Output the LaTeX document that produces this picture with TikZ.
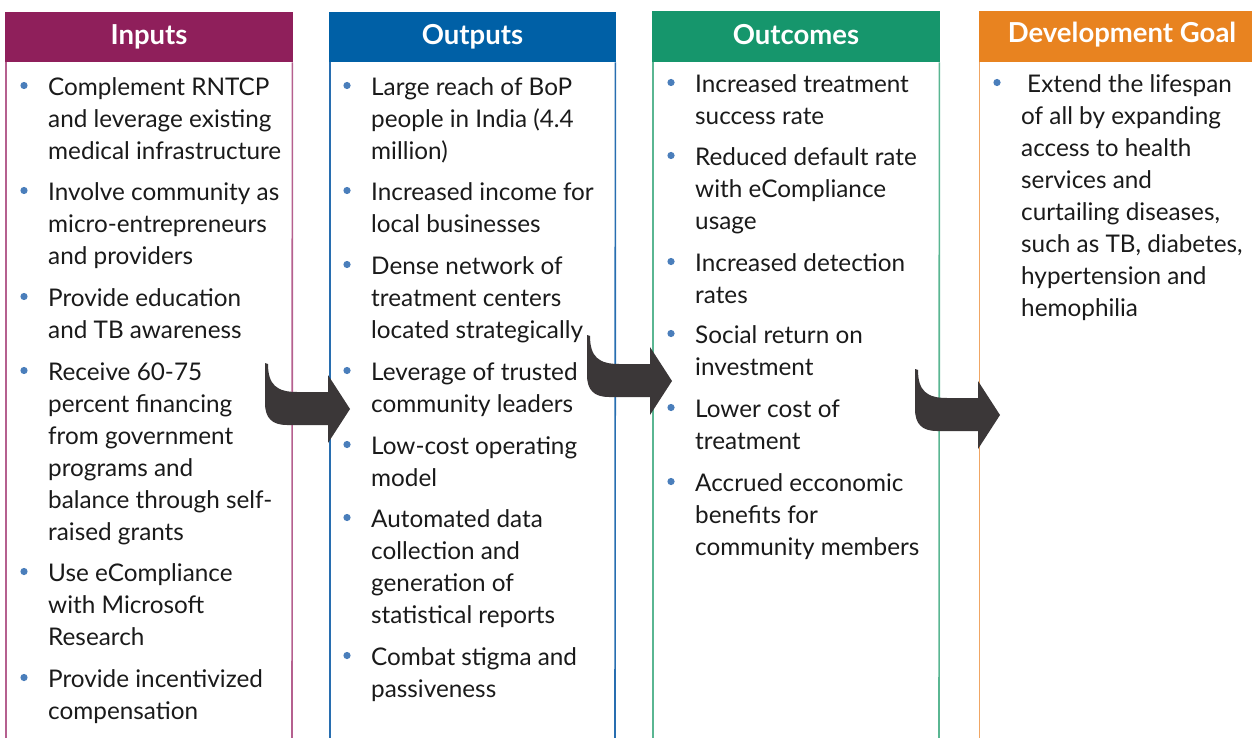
\documentclass[tikz,border=0pt]{standalone}
\usepackage{fontspec}
\setmainfont{Lato}
\usetikzlibrary{calc}
\definecolor{inpc}{RGB}{143,31,91}
\definecolor{outc}{RGB}{0,96,166}
\definecolor{ocmc}{RGB}{22,150,108}
\definecolor{devc}{RGB}{232,131,32}
\definecolor{inpl}{RGB}{181,96,143}
\definecolor{outl}{RGB}{40,110,176}
\definecolor{ocml}{RGB}{90,182,146}
\definecolor{devl}{RGB}{240,166,100}
\definecolor{bulc}{RGB}{74,126,187}
\definecolor{arrc}{RGB}{59,55,56}
\definecolor{txtc}{RGB}{26,26,26}
\tikzset{
  x=1pt, y=-1pt,
  header/.style={draw=none, inner sep=0pt, anchor=north west},
  htext/.style={text=white, inner sep=0pt, font=\fontsize{27.5}{30}\selectfont\bfseries},
  item/.style={inner sep=0pt, anchor=north west, align=left, text=txtc,
    font=\fontsize{24.3}{32}\selectfont, execute at begin node=\strut},
  colline/.style={line width=1.6pt},
  bentarrow/.pic={
    \fill[arrc] (0,0) -- (3,1) .. controls (3,22) and (12,29) .. (32,29)
      -- (63,29) -- (63,12) -- (85,46) -- (63,80) -- (63,62) -- (22,62)
      .. controls (7,62) and (0,55) .. (0,40) -- cycle;
  }
}
\begin{document}
\begin{tikzpicture}
\useasboundingbox (0,0) rectangle (1252,738);
% headers
\node[header, fill=inpc, minimum width=288pt, minimum height=50pt] (hin) at (5,12) {};
\node[htext] (thin) at (149,37) {Inputs};
\node[header, fill=outc, minimum width=287pt, minimum height=50pt] (hout) at (329,12) {};
\node[htext] (thout) at (472.5,37) {Outputs};
\node[header, fill=ocmc, minimum width=288pt, minimum height=51pt] (hocm) at (652,11) {};
\node[htext] (thocm) at (796,35) {Outcomes};
\node[header, fill=devc, minimum width=273pt, minimum height=51pt] (hdev) at (979,11) {};
\node[htext] (thdev) at (1122,35) {Development Goal};
% column lines
\coordinate (bin1) at (6,738); \coordinate (bin2) at (292,738);
\coordinate (bout1) at (330,738); \coordinate (bout2) at (615,738);
\coordinate (bocm1) at (653,738); \coordinate (bocm2) at (939,738);
\coordinate (bdev1) at (979.5,738);
\draw[colline, inpl] ($(hin.south west)+(1,0)$) -- (bin1);
\draw[colline, inpl] ($(hin.south east)+(-1,0)$) -- (bin2);
\draw[colline, outl] ($(hout.south west)+(1,0)$) -- (bout1);
\draw[colline, outl] ($(hout.south east)+(-1,0)$) -- (bout2);
\draw[colline, ocml] ($(hocm.south west)+(1,0)$) -- (bocm1);
\draw[colline, ocml] ($(hocm.south east)+(-1,0)$) -- (bocm2);
\draw[colline, devl] ($(hdev.south west)+(0.5,0)$) -- (bdev1);
% Inputs
\node[item] (i1) at (48,77.6) {Complement RNTCP\\and leverage existing\\medical infrastructure};
\node[item] (i2) at (48,182.6) {Involve community as\\micro-entrepreneurs\\and providers};
\node[item] (i3) at (48,288.6) {Provide education\\and TB awareness};
\node[item] (i4) at (48,362.6) {Receive 60-75\\percent financing\\from government\\programs and\\balance through self-\\raised grants};
\node[item] (i5) at (48,563.6) {Use eCompliance\\with Microsoft\\Research};
\node[item] (i6) at (48,669.6) {Provide incentivized\\compensation};
% Outputs
\node[item] (o1) at (371,77.6) {Large reach of BoP\\people in India (4.4\\million)};
\node[item] (o2) at (371,182.6) {Increased income for\\local businesses};
\node[item] (o3) at (371,256.6) {Dense network of\\treatment centers\\located strategically};
\node[item] (o4) at (371,362.6) {Leverage of trusted\\community leaders};
\node[item] (o5) at (371,436.6) {Low-cost operating\\model};
\node[item] (o6) at (371,509.6) {Automated data\\collection and\\generation of\\statistical reports};
\node[item] (o7) at (371,647.6) {Combat stigma and\\passiveness};
% Outcomes
\node[item] (c1) at (695,74.6) {Increased treatment\\success rate};
\node[item] (c2) at (695,147.6) {Reduced default rate\\with eCompliance\\usage};
\node[item] (c3) at (695,253.6) {Increased detection\\rates};
\node[item] (c4) at (695,325.6) {Social return on\\investment};
\node[item] (c5) at (695,399.6) {Lower cost of\\treatment};
\node[item] (c6) at (695,473.6) {Accrued ecconomic\\benefits for\\community members};
% Development goal
\node[item] (g1) at (1021,74.6) {\hspace*{6pt}Extend the lifespan\\of all by expanding\\access to health\\services and\\curtailing diseases,\\such as TB, diabetes,\\hypertension and\\hemophilia};
% bullets
\foreach \n in {i1,i2,i3,i4,i5,i6,o1,o2,o3,o4,o5,o6,o7,c1,c2,c3,c4,c5,c6,g1}
  \fill[bulc] ($(\n.north west)+(-24,7.9)$) circle (3.6);
% arrows
\pic at (265,363) {bentarrow};
\pic at (587,335) {bentarrow};
\pic at (915,369) {bentarrow};
\end{tikzpicture}
\end{document}
